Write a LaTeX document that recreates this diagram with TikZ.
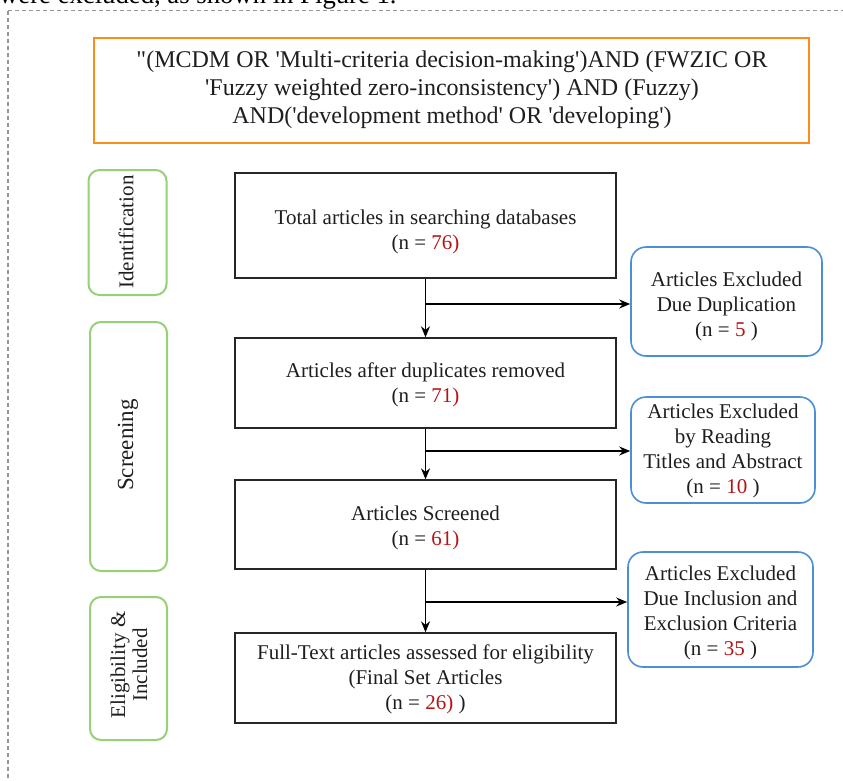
\documentclass[tikz,border=0pt]{standalone}
\usepackage{fontspec}
\setmainfont{Liberation Serif}[Ligatures=TeXOff]
\usetikzlibrary{arrows.meta}
\definecolor{orangeC}{RGB}{255,140,26}
\definecolor{greenC}{RGB}{151,208,119}
\definecolor{blueC}{RGB}{74,144,217}
\definecolor{redC}{RGB}{180,20,20}
\definecolor{txtC}{RGB}{30,30,30}
\definecolor{dashC}{RGB}{150,150,150}
\newcommand\nr[1]{\textcolor{redC}{#1}}
\begin{document}
\begin{tikzpicture}[x=1pt,y=-1pt,
  mainbox/.style={draw=black!85, line width=1.4pt, inner sep=0pt},
  exbox/.style={draw=blueC, line width=1.6pt, rounded corners=15pt, inner sep=0pt},
  stagebox/.style={draw=greenC, line width=2pt, rounded corners=11pt, inner sep=0pt},
  querybox/.style={draw=orangeC, line width=1.6pt, inner sep=0pt},
  txt/.style={align=center, text=txtC, font=\fontsize{21}{25}\selectfont, inner sep=0pt},
  stagetxt/.style={align=center, text=txtC, font=\fontsize{21}{22}\selectfont, rotate=90, inner sep=0pt},
  arr/.style={-{Stealth[length=11pt,width=9pt]}, line width=1.4pt, black},
  frameline/.style={dashC, line width=1.3pt, dash pattern=on 4pt off 3pt}]
\useasboundingbox (0,0) rectangle (843,780);
\clip (0,0) rectangle (843,780);
\fill[white] (0,0) rectangle (843,780);

% cut-off text at top
\node[anchor=base west, font=\fontsize{26.7}{30}\selectfont, text=black, inner sep=0pt] (cut) at (-1,3) {were excluded, as shown in Figure 1.};

% dashed frame
\draw[frameline] (8,10.5) -- (843,10.5);
\draw[frameline] (8,10.5) -- (8,780);

% query box
\node[querybox, minimum width=715pt, minimum height=105pt] (q) at (451.5,90.5) {};
\node[txt, font=\fontsize{24}{28}\selectfont] (qt) at (452,90) {"(MCDM OR 'Multi-criteria decision-making')AND (FWZIC OR\\'Fuzzy weighted zero-inconsistency') AND (Fuzzy)\\AND('development method' OR 'developing')};

% main boxes
\node[mainbox, minimum width=381pt, minimum height=105pt] (b1) at (425.5,225.5) {};
\node[txt] (t1) at (425.5,232) {Total articles in searching databases\\(n = \nr{76)}};
\node[mainbox, minimum width=381pt, minimum height=90pt] (b2) at (425.5,383) {};
\node[txt] (t2) at (425.5,385) {Articles after duplicates removed\\(n = \nr{71)}};
\node[mainbox, minimum width=381pt, minimum height=89pt] (b3) at (425.5,524.5) {};
\node[txt] (t3) at (425.5,528) {Articles Screened\\(n = \nr{61)}};
\node[mainbox, minimum width=381pt, minimum height=90pt] (b4) at (425.5,678) {};
\node[txt] (t4) at (425.5,679) {Full-Text articles assessed for eligibility\\(Final Set Articles\\(n = \nr{26)} )};

% exclusion boxes
\node[exbox, minimum width=191pt, minimum height=109pt] (e1) at (726.5,301.5) {};
\node[txt] (et1) at (726.5,306) {Articles Excluded\\Due Duplication\\(n = \nr{5} )};
\node[exbox, minimum width=184pt, minimum height=106pt] (e2) at (723,450) {};
\node[txt] (et2) at (723,451) {Articles Excluded\\by Reading\\Titles and Abstract\\(n = \nr{10} )};
\node[exbox, minimum width=185pt, minimum height=115pt] (e3) at (720.5,609.5) {};
\node[txt] (et3) at (720.5,613) {Articles Excluded\\Due Inclusion and\\Exclusion Criteria\\(n = \nr{35} )};

% stage boxes
\node[stagebox, minimum width=78pt, minimum height=125pt] (s1) at (127.5,232.5) {};
\node[stagetxt] (st1) at (126,232) {Identification};
\node[stagebox, minimum width=77pt, minimum height=249pt] (s2) at (128.5,446.5) {};
\node[stagetxt, font=\fontsize{23}{22}\selectfont] (st2) at (128,445) {Screening};
\node[stagebox, minimum width=77pt, minimum height=143pt] (s3) at (128.5,668.5) {};
\node[stagetxt] (st3) at (129,665) {Eligibility \&\\Included};

% connectors
\draw[arr] (b1) -- (b2);
\draw[arr] (b2) -- (b3);
\draw[arr] (b3) -- (b4);
\coordinate (j1) at (425.5,304);
\coordinate (j2) at (425.5,451);
\coordinate (j3) at (425.5,602);
\draw[arr] (j1) -- (j1 -| e1.west);
\draw[arr] (j2) -- (j2 -| e2.west);
\draw[arr] (j3) -- (j3 -| e3.west);
\end{tikzpicture}
\end{document}
